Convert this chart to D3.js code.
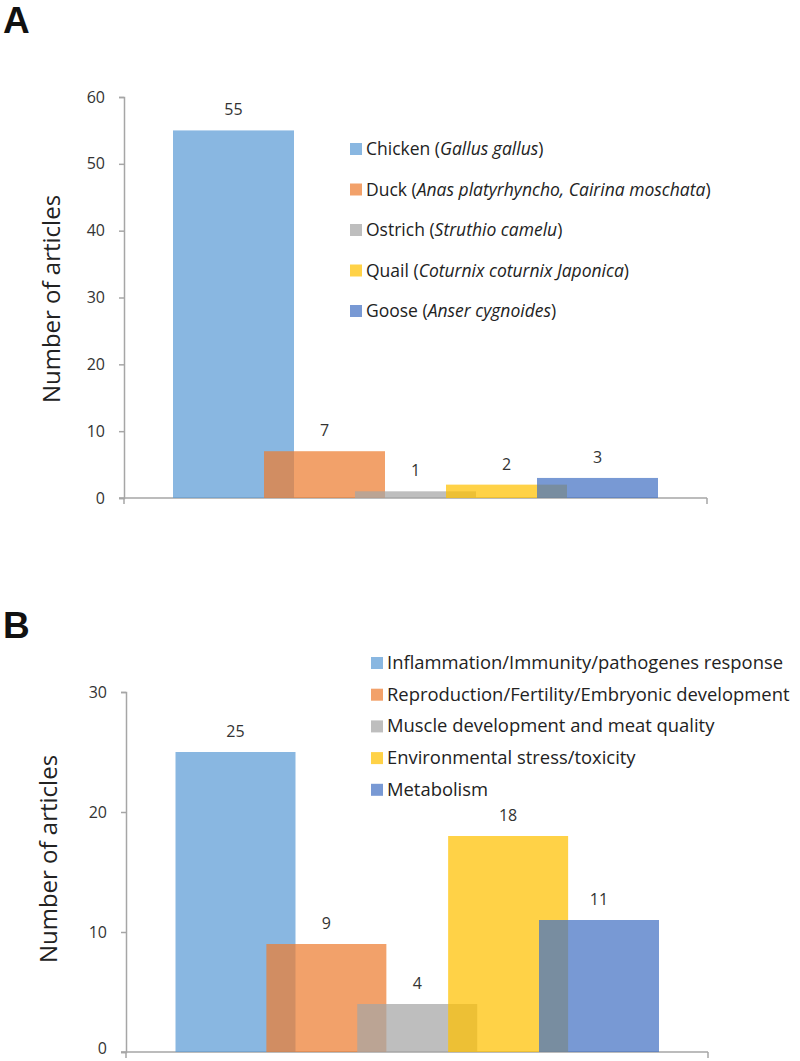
<!DOCTYPE html>
<html><head><meta charset="utf-8">
<script src="https://cdn.jsdelivr.net/npm/d3@7"></script>
<style>
html,body{margin:0;padding:0;background:#fff;}
svg{display:block;font-family:"Open Sans",Lato,sans-serif;}
</style></head>
<body>
<script>
// ---- Data ----
const speciesNames = ["Chicken", "Duck", "Ostrich", "Quail", "Goose"];
const speciesLatin = ["Gallus gallus", "Anas platyrhyncho, Cairina moschata", "Struthio camelu", "Coturnix coturnix Japonica", "Anser cygnoides"];
const speciesCounts = [55, 7, 1, 2, 3];
const topicNames = ["Inflammation/Immunity/pathogenes response", "Reproduction/Fertility/Embryonic development", "Muscle development and meat quality", "Environmental stress/toxicity", "Metabolism"];
const topicCounts = [25, 9, 4, 18, 11];
const ticksA = [0, 10, 20, 30, 40, 50, 60];
const ticksB = [0, 10, 20, 30];
const seriesColors = ["#5B9BD5", "#ED7D31", "#A5A5A5", "#FFC000", "#4472C4"];
const yTitle = "Number of articles";

const W = 800, H = 1061;
const svg = d3.select("body").append("svg").attr("width", W).attr("height", H);
const axisColor = "#a6a6a6", textColor = "#333";
const alpha = 0.72;

function panel(cfg) {
  const g = svg.append("g");
  const y = d3.scaleLinear().domain([0, cfg.yMax]).range([cfg.y0, cfg.yTop]);
  const x = d3.scaleLinear().domain([0, cfg.values.length - 1]).range([cfg.xFirst, cfg.xLast]);
  // panel letter
  g.append("text").attr("x", 3).attr("y", cfg.letterY).text(cfg.letter)
    .attr("font-family", "Liberation Sans, Arial, sans-serif").attr("font-weight", "bold")
    .attr("font-size", 37).attr("fill", "#111");
  // y axis
  const ax = g.append("g").attr("transform", `translate(${cfg.axisX},0)`)
    .call(d3.axisLeft(y).tickValues(cfg.ticks).tickSize(5).tickPadding(14).tickFormat(d3.format("d")));
  ax.select(".domain").attr("stroke", axisColor).attr("stroke-width", 1.5);
  ax.selectAll(".tick line").attr("stroke", axisColor).attr("stroke-width", 1.5);
  ax.selectAll(".tick text").attr("fill", textColor).attr("font-size", 16).attr("font-family", "Open Sans, sans-serif");
  if (cfg.lowZero) ax.selectAll(".tick text").filter(d => d === 0).attr("dy", "0.1em");
  // x axis line with end ticks
  g.append("line").attr("x1", cfg.axisX - 5).attr("x2", cfg.xEnd).attr("y1", y(0)).attr("y2", y(0))
    .attr("stroke", axisColor).attr("stroke-width", 1.5);
  [cfg.axisX, cfg.xEnd].forEach(xx => g.append("line").attr("x1", xx).attr("x2", xx)
    .attr("y1", y(0)).attr("y2", y(0) + 6).attr("stroke", axisColor).attr("stroke-width", 1.5));
  // bars
  g.selectAll("rect.bar").data(cfg.values).join("rect").attr("class", "bar")
    .attr("x", (d, i) => x(i)).attr("width", cfg.barW)
    .attr("y", d => y(d)).attr("height", d => y(0) - y(d))
    .attr("fill", (d, i) => seriesColors[i]).attr("fill-opacity", alpha);
  // value labels
  g.selectAll("text.val").data(cfg.values).join("text").attr("class", "val")
    .attr("x", (d, i) => x(i) + cfg.barW / 2).attr("y", d => y(d) - 15)
    .attr("text-anchor", "middle").attr("font-size", 16).attr("fill", textColor)
    .text(d => d);
  // y title
  g.append("text").attr("transform", `translate(${cfg.titleX},${cfg.titleY}) rotate(-90)`)
    .attr("text-anchor", "middle").attr("font-size", 24).attr("fill", "#222").text(yTitle);
  // legend
  const lg = g.append("g");
  cfg.legend.forEach((item, i) => {
    const cy = cfg.legY + i * cfg.legStep;
    lg.append("rect").attr("x", cfg.legX).attr("y", cy - 6).attr("width", 12).attr("height", 12)
      .attr("fill", seriesColors[i]).attr("fill-opacity", alpha);
    const t = lg.append("text").attr("x", cfg.legX + 16).attr("y", cy + 6)
      .attr("font-size", cfg.legFont).attr("fill", "#222");
    item.forEach(part => t.append("tspan").attr("font-style", part.it ? "italic" : "normal").text(part.s));
  });
}

panel({
  letter: "A", letterY: 33, values: speciesCounts, yMax: 60, ticks: ticksA,
  y0: 498, yTop: 97, axisX: 124, xFirst: 173, xLast: 537, barW: 121, xEnd: 707,
  titleX: 60, titleY: 299,
  legX: 350, legY: 149, legStep: 40.5, legFont: 17.5,
  legend: speciesNames.map((n, i) => [{s: n + " ("}, {s: speciesLatin[i], it: true}, {s: ")"}])
});

panel({
  letter: "B", letterY: 638, values: topicCounts, yMax: 30, ticks: ticksB,
  y0: 1052, yTop: 692, axisX: 126, xFirst: 175.5, xLast: 539, barW: 120, xEnd: 708,
  titleX: 57, titleY: 859, lowZero: true,
  legX: 371, legY: 663, legStep: 31.7, legFont: 18.4,
  legend: topicNames.map(n => [{s: n}])
});
</script>
</body></html>
